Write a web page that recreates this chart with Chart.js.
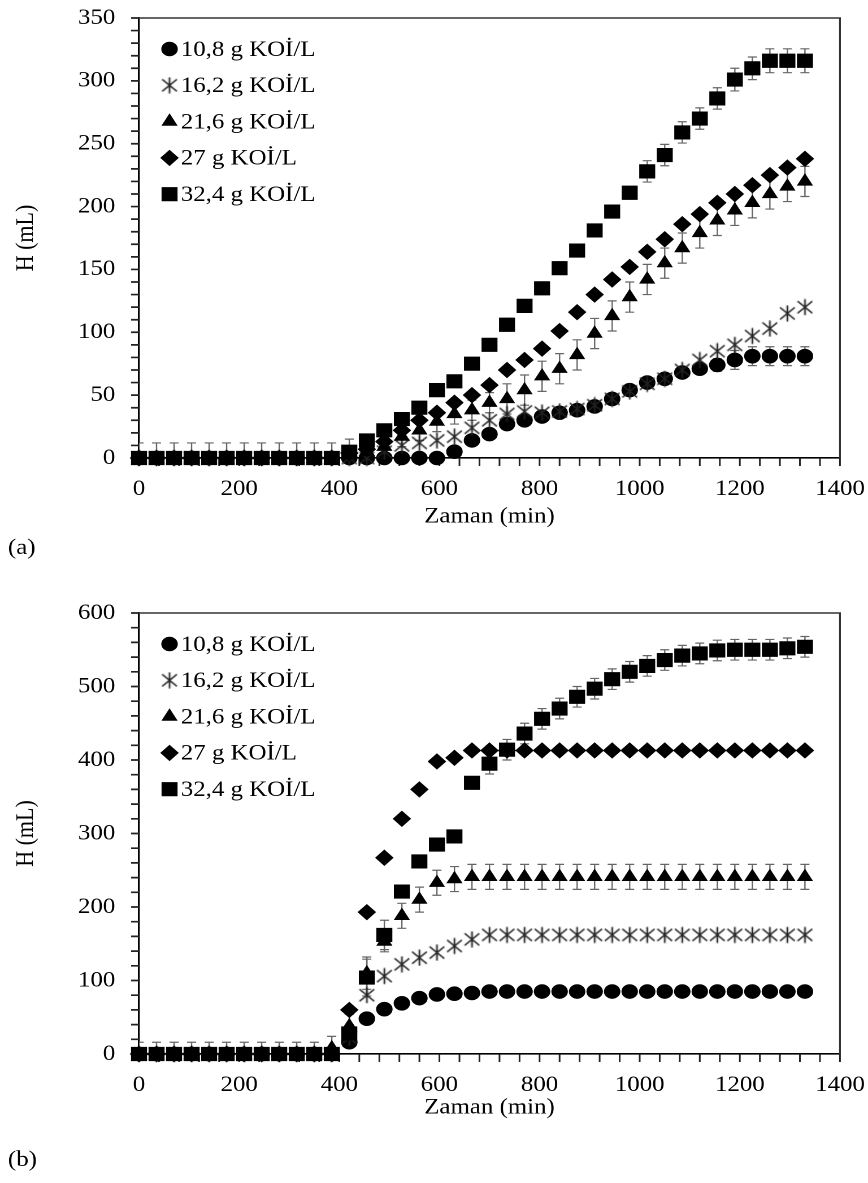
<!DOCTYPE html>
<html>
<head>
<meta charset="utf-8">
<script src="https://cdn.jsdelivr.net/npm/chart.js@4.4.0/dist/chart.umd.min.js"></script>
<style>
  html, body { margin: 0; padding: 0; background: #fff; overflow: hidden; }
  /* the original figure is stretched a little horizontally, so is this one */
  .panel { position: absolute; left: 0; width: 768px; transform: scaleX(1.1302); transform-origin: 0 0; }
  #wrapA { top: 0; height: 575px; }
  #wrapB { top: 593px; height: 590px; }
</style>
</head>
<body>
<div class="panel" id="wrapA"><canvas id="chartA"></canvas></div>
<div class="panel" id="wrapB"><canvas id="chartB"></canvas></div>
<script>
// consts
const times = [0, 35, 70, 105, 140, 175, 210, 245, 280, 315, 350, 385, 420, 455, 490, 525, 560, 595, 630, 665,
  700, 735, 770, 805, 840, 875, 910, 945, 980, 1015, 1050, 1085, 1120, 1155, 1190, 1225, 1260, 1295, 1330];

const seriesLabels = ['10,8 g KOİ/L', '16,2 g KOİ/L', '21,6 g KOİ/L', '27 g KOİ/L', '32,4 g KOİ/L'];
const xTitle = 'Zaman (min)';
const yTitle = 'H (mL)';

// panel (a)
const a108 = [0, 0, 0, 0, 0, 0, 0, 0, 0, 0, 0, 0, 0, 0, 0, 0, 0, 0, 5, 14,
  19, 27, 30, 33, 36, 38, 41, 47, 54, 60, 63, 68, 71, 74, 78, 81, 81, 81, 81];
const a162 = [0, 0, 0, 0, 0, 0, 0, 0, 0, 0, 0, 0, 0, 0, 5, 10, 12, 14, 17, 24,
  30, 35, 37, 36, 37, 39, 42, 47, 53, 59, 63, 70, 78, 85, 90, 97, 103, 115, 120];
const a216 = [0, 0, 0, 0, 0, 0, 0, 0, 0, 0, 0, 0, 3, 5, 9, 17, 22, 29, 35, 38,
  44, 47, 54, 65, 71, 82, 99, 113, 128, 142, 155, 167, 179, 189, 197, 203, 210, 216, 220];
const a27 = [0, 0, 0, 0, 0, 0, 0, 0, 0, 0, 0, 0, 4, 7, 13, 22, 30, 36, 44, 50,
  58, 70, 78, 87, 101, 116, 130, 142, 152, 164, 174, 186, 194, 203, 210, 217, 225, 231, 238];
const a324 = [0, 0, 0, 0, 0, 0, 0, 0, 0, 0, 0, 0, 5, 14, 22, 31, 40, 54, 61, 75,
  90, 106, 121, 135, 151, 165, 181, 196, 211, 228, 241, 259, 270, 286, 301, 310, 316, 316, 316];

const aErr108 = [0, 0, 0, 0, 0, 0, 0, 0, 0, 0, 0, 0, 0, 0, 0, 0, 0, 0, 3, 3,
  3, 3, 3, 3, 3, 3, 3, 3, 3, 3, 3, 3, 3, 5, 7.5, 7.5, 7.5, 7.5, 7.5];
const aErr216 = [12, 12, 12, 12, 12, 12, 12, 12, 12, 12, 12, 12, 12, 8, 8, 8, 8, 8, 8, 8,
  8, 12, 12, 12, 12, 12, 12, 12, 12, 12, 12, 12, 12, 12, 12, 12, 12, 12, 12];
const aErr324 = [0, 0, 0, 0, 0, 0, 0, 0, 0, 0, 0, 0, 3, 3, 3, 3, 3, 3, 3, 3,
  3, 5, 5, 5, 5, 5, 5, 5, 5, 8.5, 8.5, 8.5, 8.5, 8.5, 9, 9, 9.5, 9.5, 9.5];

// panel (b)
const b108 = [0, 0, 0, 0, 0, 0, 0, 0, 0, 0, 0, 0, 16, 48, 61, 69, 76, 81, 82, 83,
  85, 85, 85, 85, 85, 85, 85, 85, 85, 85, 85, 85, 85, 85, 85, 85, 85, 85, 85];
const b162 = [0, 0, 0, 0, 0, 0, 0, 0, 0, 0, 0, 0, 22, 80, 106, 122, 131, 138, 147, 156,
  162, 162, 162, 162, 162, 162, 162, 162, 162, 162, 162, 162, 162, 162, 162, 162, 162, 162, 162];
const b216 = [0, 0, 0, 0, 0, 0, 0, 0, 0, 0, 0, 8, 38, 110, 153, 188, 210, 233, 238, 241,
  241, 241, 241, 241, 241, 241, 241, 241, 241, 241, 241, 241, 241, 241, 241, 241, 241, 241, 241];
const b27 = [0, 0, 0, 0, 0, 0, 0, 0, 0, 0, 0, 0, 60, 193, 267, 320, 360, 398, 403, 413,
  413, 413, 413, 413, 413, 413, 413, 413, 413, 413, 413, 413, 413, 413, 413, 413, 413, 413, 413];
const b324 = [0, 0, 0, 0, 0, 0, 0, 0, 0, 0, 0, 0, 28, 104, 162, 221, 262, 285, 296, 369,
  395, 414, 436, 456, 470, 486, 497, 510, 520, 528, 536, 542, 545, 549, 550, 550, 550, 552, 554];

const bErr216 = [16, 16, 16, 16, 16, 16, 16, 16, 16, 16, 16, 16, 16, 22, 14, 17, 17, 17, 17, 17,
  17, 17, 17, 17, 17, 17, 17, 17, 17, 17, 17, 17, 17, 17, 17, 17, 17, 17, 17];
const bErr324 = [0, 0, 0, 0, 0, 0, 0, 0, 0, 0, 0, 0, 8, 25, 20, 8, 8, 8, 8, 8,
  14, 14, 14, 14, 14, 14, 14, 14, 14, 14, 14, 14, 14, 14, 14, 14, 14, 14, 14];

const textFont = { family: "'Liberation Serif', 'Times New Roman', serif", size: 22 };

// asterisk marker: vertical bar + X, like the Excel one
function makeAsterisk() {
  const c = document.createElement('canvas');
  c.width = 15; c.height = 17;
  const g = c.getContext('2d');
  g.strokeStyle = '#222';
  g.lineWidth = 1.5;
  g.beginPath();
  g.moveTo(7.5, 0.5); g.lineTo(7.5, 16.5);
  g.moveTo(1, 2.5); g.lineTo(14, 14.5);
  g.moveTo(14, 2.5); g.lineTo(1, 14.5);
  g.stroke();
  return c;
}

const markerStyles = ['circle', makeAsterisk(), 'triangle', 'rectRot', 'rect'];
const markerRadii = [6.8, 8, 7.3, 7.5, 9.3];

// error bars, frame, tick marks, legend and panel letter
const figureExtras = {
  id: 'figureExtras',
  beforeDatasetsDraw(chart) {
    const { ctx, chartArea: area, scales: { x, y } } = chart;
    ctx.save();
    // top + right frame
    ctx.strokeStyle = '#333';
    ctx.lineWidth = 1.6;
    ctx.beginPath();
    ctx.moveTo(area.left, area.top);
    ctx.lineTo(area.right, area.top);
    ctx.lineTo(area.right, area.bottom);
    ctx.stroke();

    // outside tick marks, a bit heavier than chart.js default
    ctx.strokeStyle = '#222';
    ctx.lineWidth = 1.7;
    ctx.beginPath();
    y.ticks.forEach(t => {
      const py = y.getPixelForValue(t.value);
      ctx.moveTo(area.left - 7, py); ctx.lineTo(area.left, py);
    });
    ctx.stroke();
    ctx.lineWidth = 1.5;
    ctx.beginPath();
    x.ticks.forEach(t => {
      const px = x.getPixelForValue(t.value);
      ctx.moveTo(px, area.bottom); ctx.lineTo(px, area.bottom + 8);
    });
    ctx.stroke();

    ctx.beginPath();
    ctx.rect(area.left, area.top, area.right - area.left, area.bottom - area.top);
    ctx.clip();
    ctx.strokeStyle = '#666';
    ctx.lineWidth = 1.2;
    chart.data.datasets.forEach(ds => {
      if (!ds.errors) return;
      ds.data.forEach((p, i) => {
        const e = ds.errors[i];
        if (!e) return;
        const px = x.getPixelForValue(p.x);
        const yTop = y.getPixelForValue(p.y + e);
        const yBot = y.getPixelForValue(p.y - e);
        ctx.beginPath();
        ctx.moveTo(px, yTop); ctx.lineTo(px, yBot);
        ctx.moveTo(px - 4, yTop); ctx.lineTo(px + 4, yTop);
        ctx.moveTo(px - 4, yBot); ctx.lineTo(px + 4, yBot);
        ctx.stroke();
      });
    });
    ctx.restore();
  },
  afterDraw(chart, args, opts) {
    const { ctx, chartArea: area } = chart;
    ctx.save();
    ctx.font = `${textFont.size}px ${textFont.family}`;
    ctx.textBaseline = 'middle';
    ctx.textAlign = 'left';
    chart.data.datasets.forEach((ds, k) => {
      const ly = area.top + 31 + k * 36.3;
      const lx = area.left + 27;
      ctx.fillStyle = '#000';
      ctx.strokeStyle = '#000';
      ctx.lineWidth = 1;
      Chart.helpers.drawPoint(ctx, { pointStyle: ds.pointStyle, rotation: 0, radius: ds.pointRadius, borderWidth: 1 }, lx, ly);
      ctx.fillStyle = '#000';
      ctx.fillText(ds.label, lx + 10, ly + 1);
    });
    ctx.fillText(opts.letter, 7, opts.letterY);
    ctx.restore();
  }
};

function makeDatasets(values, errs) {
  return seriesLabels.map((label, k) => ({
    label: label,
    data: times.map((t, i) => ({ x: t, y: values[k][i] })),
    errors: errs[k],
    showLine: false,
    pointStyle: markerStyles[k],
    pointRadius: markerRadii[k],
    pointHoverRadius: markerRadii[k],
    backgroundColor: '#000',
    borderColor: '#000',
    borderWidth: 1,
    order: 4 - k,
    clip: false
  }));
}

function makeChart(canvasId, cfg) {
  return new Chart(document.getElementById(canvasId).getContext('2d'), {
    type: 'scatter',
    data: { datasets: makeDatasets(cfg.values, cfg.errs) },
    options: {
      responsive: true,
      maintainAspectRatio: false,
      animation: false,
      devicePixelRatio: 2,
      layout: { padding: { left: 0, right: 24.8, top: cfg.top, bottom: cfg.bottom } },
      plugins: {
        legend: { display: false },
        tooltip: { enabled: false },
        figureExtras: { letter: cfg.letter, letterY: cfg.letterY }
      },
      scales: {
        x: {
          type: 'linear',
          min: 0,
          max: 1400,
          afterFit: s => { s.height = 75; s.paddingLeft = 0; s.paddingRight = 0; },
          ticks: {
            stepSize: 40,
            autoSkip: false,
            maxRotation: 0,
            padding: 11,
            color: '#000',
            font: textFont,
            callback: v => (v % 200 === 0 ? String(v) : '')
          },
          grid: { drawOnChartArea: false, tickLength: 7, color: '#000', tickColor: '#000', lineWidth: 1 },
          border: { color: '#000', width: 1.6 },
          title: { display: true, text: xTitle, color: '#000', font: textFont, padding: { top: 0, bottom: cfg.xTitlePad } }
        },
        y: {
          min: 0,
          max: cfg.ymax,
          afterFit: s => { s.width = 123; s.paddingTop = 0; s.paddingBottom = 0; },
          ticks: {
            stepSize: cfg.ystep,
            autoSkip: false,
            padding: 15,
            color: '#000',
            font: textFont,
            callback: v => (v % cfg.ylabel === 0 ? String(v) : '')
          },
          grid: { drawOnChartArea: false, tickLength: 6, color: '#000', tickColor: '#000', lineWidth: 1 },
          border: { color: '#000', width: 1.6 },
          title: { display: true, text: yTitle, color: '#000', font: textFont, padding: { top: 10, bottom: 0 } }
        }
      }
    },
    plugins: [figureExtras]
  });
}

// run
makeChart('chartA', {
  values: [a108, a162, a216, a27, a324],
  errs: [aErr108, null, aErr216, null, aErr324],
  ymax: 350, ystep: 10, ylabel: 50,
  top: 18, bottom: 42, xTitlePad: 3,
  letter: '(a)', letterY: 548
});

makeChart('chartB', {
  values: [b108, b162, b216, b27, b324],
  errs: [null, null, bErr216, null, bErr324],
  ymax: 600, ystep: 20, ylabel: 100,
  top: 20, bottom: 54, xTitlePad: 8,
  letter: '(b)', letterY: 567
});
</script>
</body>
</html>
